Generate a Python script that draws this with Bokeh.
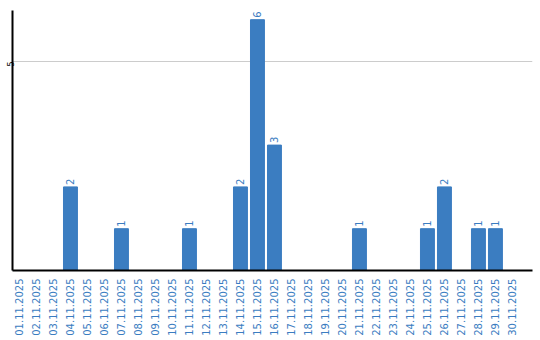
from bokeh.plotting import figure
from bokeh.models import ColumnDataSource, FixedTicker, Range1d
from bokeh.embed import file_html
from bokeh.resources import INLINE
from bokeh.core.properties import value
import math

dates = ["%02d.11.2025" % d for d in range(1, 31)]
counts = [0, 0, 0, 2, 0, 0, 1, 0, 0, 0,
          1, 0, 0, 2, 6, 3, 0, 0, 0, 0,
          1, 0, 0, 0, 1, 2, 0, 1, 1, 0]

xs = list(range(len(dates)))
src = ColumnDataSource(dict(x=xs, top=counts))
lab_idx = [i for i, c in enumerate(counts) if c > 0]
lsrc = ColumnDataSource(dict(x=[xs[i] for i in lab_idx],
                             y=[counts[i] for i in lab_idx],
                             t=[str(counts[i]) for i in lab_idx]))

BLUE = "#3b7dc1"
p = figure(output_backend="svg", toolbar_location=None,
           frame_width=520, frame_height=260,
           x_range=Range1d(-0.41, 30.18), y_range=Range1d(0, 6.22),
           min_border_left=0, min_border_right=9, min_border_top=10, min_border_bottom=0)
p.outline_line_color = None
p.background_fill_color = "white"
p.border_fill_color = "white"

p.vbar(x="x", top="top", width=0.82, bottom=0, source=src, color=BLUE)
p.text(x="x", y="y", text="t", source=lsrc, angle=math.pi / 2,
       x_offset=0, y_offset=-2, text_align="left", text_baseline="middle",
       text_font=value("DejaVu Sans"), text_font_size="10px", text_color=BLUE)

p.xaxis.ticker = FixedTicker(ticks=xs)
p.xaxis.major_label_overrides = {i: d for i, d in enumerate(dates)}
p.xaxis.major_label_orientation = math.pi / 2
p.xaxis.major_label_text_font = "DejaVu Sans"
p.xaxis.major_label_text_font_size = "10px"
p.xaxis.major_label_text_color = BLUE
p.xaxis.major_tick_line_color = None
p.xaxis.minor_tick_line_color = None
p.xaxis.major_tick_out = 0
p.xaxis.minor_tick_out = 0
p.xaxis.axis_line_width = 2
p.xaxis.axis_line_color = "black"
p.xaxis.major_label_standoff = 8

p.yaxis.ticker = FixedTicker(ticks=[5])
p.yaxis.major_label_orientation = math.pi / 2
p.yaxis.major_label_text_font = "DejaVu Sans"
p.yaxis.major_label_text_font_size = "8px"
p.yaxis.major_label_text_color = "black"
p.yaxis.major_tick_line_color = None
p.yaxis.minor_tick_line_color = None
p.yaxis.major_tick_out = 0
p.yaxis.minor_tick_out = 0
p.yaxis.axis_line_width = 2
p.yaxis.axis_line_color = "black"
p.yaxis.major_label_standoff = 2

p.xgrid.grid_line_color = None
p.ygrid.ticker = FixedTicker(ticks=[5])
p.ygrid.grid_line_color = "#cccccc"

open("out.html", "w").write(file_html(p, INLINE))
